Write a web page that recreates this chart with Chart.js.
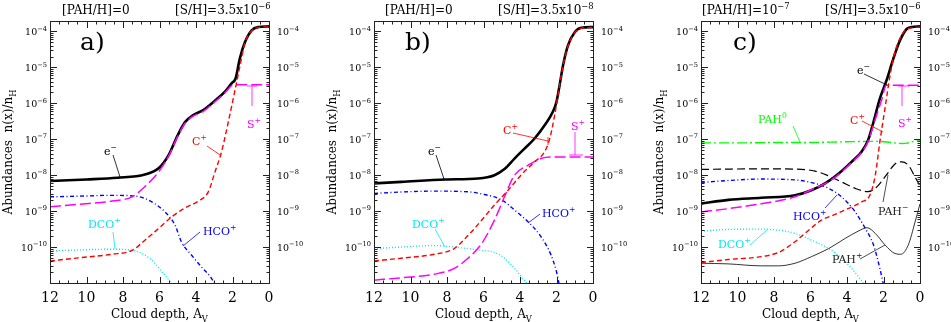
<!DOCTYPE html>
<html>
<head>
<meta charset="utf-8">
<script src="https://cdn.jsdelivr.net/npm/chart.js@4.4.0/dist/chart.umd.min.js"></script>
<style>
html, body { margin: 0; padding: 0; background: #fff; overflow: hidden; width: 951px; height: 322px; }
canvas { position: absolute; top: 0; }
</style>
</head>
<body>
<canvas id="pa" width="317" height="322" style="left:0px"></canvas>
<canvas id="pb" width="317" height="322" style="left:317px"></canvas>
<canvas id="pc" width="317" height="322" style="left:634px"></canvas>
<script>
// axis ticks
const xTicks = [12, 10, 8, 6, 4, 2, 0];
const yDecades = [1e-4, 1e-5, 1e-6, 1e-7, 1e-8, 1e-9, 1e-10];
const yLabels = ['10^{−4}', '10^{−5}', '10^{−6}', '10^{−7}', '10^{−8}', '10^{−9}', '10^{−10}'];
const yMin = 1e-11, yMax = 1.95e-4;

// panel a) [PAH/H]=0, [S/H]=3.5e-6
const avA_e = [12, 10, 8.3, 6.8, 6.05, 5.5, 5.0, 4.6, 4.15, 3.6, 2.95, 2.4, 2.05, 1.83, 1.6, 1.32, 0.95, 0.58, 0];
const a_e = [6.9e-9, 7.6e-9, 8.5e-9, 1.05e-8, 1.55e-8, 3.6e-8, 1.3e-7, 3.0e-7, 4.7e-7, 6.5e-7, 1.2e-6, 2.15e-6, 3.6e-6, 4.9e-6, 1.75e-5, 5.0e-5, 1.07e-4, 1.32e-4, 1.38e-4];
const avA_c = [12, 10.45, 8.6, 7.5, 6.8, 6.05, 5.33, 4.6, 3.87, 3.32, 2.96, 2.6, 2.15, 1.77, 1.59, 1.32, 0.95, 0.58, 0];
const a_c = [4.1e-11, 5.0e-11, 6.3e-11, 8.1e-11, 1.55e-10, 3.3e-10, 6.9e-10, 1.23e-9, 1.9e-9, 3.5e-9, 1.23e-8, 4.5e-8, 4.7e-7, 3.9e-6, 1.1e-5, 4.8e-5, 1.05e-4, 1.29e-4, 1.35e-4];
const avA_s = [12, 10.45, 8.6, 7.5, 6.8, 6.05, 5.5, 5.0, 4.6, 4.15, 3.6, 2.95, 2.4, 2.05, 1.8, 0];
const a_s = [1.32e-9, 1.55e-9, 1.9e-9, 2.5e-9, 4.8e-9, 1.23e-8, 3.4e-8, 1.2e-7, 2.8e-7, 4.4e-7, 6.0e-7, 1.12e-6, 2.0e-6, 3.1e-6, 3.3e-6, 3.3e-6];
const avA_hco = [12, 10.45, 8.6, 7.3, 6.8, 6.25, 5.7, 5.15, 4.8, 4.25, 3.7, 3.15, 2.9];
const a_hco = [2.5e-9, 2.6e-9, 2.75e-9, 2.6e-9, 2.25e-9, 1.6e-9, 9.5e-10, 4.1e-10, 1.4e-10, 6.0e-11, 2.8e-11, 1.35e-11, 8e-12];
const avA_dco = [12, 10.45, 8.6, 7.5, 6.8, 6.25, 5.8, 5.42, 5.1];
const a_dco = [7.8e-11, 8.3e-11, 8.7e-11, 8.1e-11, 6.0e-11, 3.5e-11, 1.85e-11, 1.1e-11, 6.3e-12];

// panel b) [PAH/H]=0, [S/H]=3.5e-8
const avB_e = [12, 10.5, 8.1, 6.3, 5.4, 4.85, 4.3, 3.75, 3.2, 2.65, 2.2, 2.0, 1.83, 1.64, 1.37, 1.0, 0.64, 0];
const b_e = [5.9e-9, 6.5e-9, 7.6e-9, 8.1e-9, 1.0e-8, 1.48e-8, 2.9e-8, 5.5e-8, 1.05e-7, 2.45e-7, 5.8e-7, 1.1e-6, 3.2e-6, 1.15e-5, 4.1e-5, 9.5e-5, 1.26e-4, 1.32e-4];
const avB_c = [12, 10.5, 8.7, 7.6, 6.85, 6.1, 5.4, 4.65, 3.95, 3.2, 2.65, 2.37, 2.1, 1.83, 1.64, 1.37, 1.0, 0.64, 0];
const b_c = [4.1e-11, 4.9e-11, 6.3e-11, 9.1e-11, 2.1e-10, 5.6e-10, 1.48e-9, 3.8e-9, 1.0e-8, 2.35e-8, 4.5e-8, 1.05e-7, 4.7e-7, 3.2e-6, 1.1e-5, 3.9e-5, 9.3e-5, 1.23e-4, 1.29e-4];
const avB_s = [12, 10.5, 8.7, 7.6, 6.85, 6.1, 5.4, 4.85, 4.3, 3.55, 2.85, 2.35, 0];
const b_s = [1.2e-11, 1.4e-11, 1.75e-11, 2.55e-11, 4.9e-11, 1.25e-10, 5.6e-10, 2.5e-9, 1.0e-8, 1.9e-8, 2.9e-8, 3.2e-8, 3.2e-8];
const avB_hco = [12, 10.5, 8.7, 6.85, 5.95, 5.0, 4.3, 3.55, 2.85, 2.3, 2.0, 1.85];
const b_hco = [3.1e-9, 3.4e-9, 3.6e-9, 3.45e-9, 2.9e-9, 2.05e-9, 1.07e-9, 5.0e-10, 1.95e-10, 6.0e-11, 2.05e-11, 9e-12];
const avB_dco = [12, 10.5, 8.7, 7.2, 6.1, 5.4, 4.85, 4.3, 3.85, 3.5];
const b_dco = [9.1e-11, 1.0e-10, 1.1e-10, 9.5e-11, 8.1e-11, 7.1e-11, 4.9e-11, 2.55e-11, 1.35e-11, 8e-12];

// panel c) [PAH/H]=1e-7, [S/H]=3.5e-6
const avC_e = [12, 10.5, 8.7, 6.85, 5.95, 5.2, 4.45, 3.75, 3.2, 2.85, 2.55, 2.2, 1.83, 1.46, 1.1, 0.73, 0.45, 0];
const c_e = [1.62e-9, 2.05e-9, 2.35e-9, 2.75e-9, 3.8e-9, 5.9e-9, 1.12e-8, 2.35e-8, 4.5e-8, 9.3e-8, 3.0e-7, 1.35e-6, 4.4e-6, 1.75e-5, 5.6e-5, 1.17e-4, 1.32e-4, 1.38e-4];
const avC_c = [12, 10.5, 8.7, 7.75, 6.85, 6.1, 5.4, 4.65, 3.95, 3.2, 2.75, 2.45, 2.2, 1.92, 1.64, 1.37, 1.0, 0.64, 0];
const c_c = [3.7e-11, 4.5e-11, 5.4e-11, 7.1e-11, 1.4e-10, 2.95e-10, 5.6e-10, 8.1e-10, 1.17e-9, 1.8e-9, 2.75e-9, 1.0e-8, 8.5e-8, 7.1e-7, 6.0e-6, 2.7e-5, 7.9e-5, 1.2e-4, 1.32e-4];
const avC_s = [12, 10.5, 8.7, 6.85, 5.75, 5.0, 4.45, 3.75, 3.2, 2.85, 2.5, 2.1, 1.85, 0];
const c_s = [9.5e-10, 1.17e-9, 1.6e-9, 2.5e-9, 4.4e-9, 6.6e-9, 1.05e-8, 2.25e-8, 4.3e-8, 8.5e-8, 3.0e-7, 1.25e-6, 3.2e-6, 3.2e-6];
const avC_pah0 = [12, 10, 8, 6, 5, 4, 3, 2.2, 1.6, 1.0, 0.7, 0.35, 0];
const c_pah0 = [7.9e-8, 7.9e-8, 8.1e-8, 8.1e-8, 8.3e-8, 8.5e-8, 8.7e-8, 8.7e-8, 8.1e-8, 7.6e-8, 7.8e-8, 8.7e-8, 9.3e-8];
const avC_pahm = [12, 10.5, 8.7, 6.85, 5.75, 5.0, 4.3, 3.55, 2.85, 2.35, 1.85, 1.37, 1.0, 0.64, 0.27, 0];
const c_pahm = [1.45e-8, 1.48e-8, 1.5e-8, 1.48e-8, 1.3e-8, 9.5e-9, 6.5e-9, 4.3e-9, 3.5e-9, 4.8e-9, 1.0e-8, 2.05e-8, 2.35e-8, 1.9e-8, 8.9e-9, 5.0e-9];
const avC_pahp = [12, 10.5, 8.7, 7.75, 6.85, 5.95, 5.0, 4.1, 3.4, 2.9, 2.45, 1.92, 1.37, 1.05, 0.64, 0.27, 0];
const c_pahp = [3.55e-11, 3.4e-11, 3.0e-11, 3.0e-11, 3.55e-11, 5.4e-11, 9.1e-11, 1.74e-10, 2.75e-10, 3.45e-10, 2.4e-10, 1.15e-10, 6.6e-11, 6.3e-11, 1.15e-10, 5.0e-10, 1.6e-9];
const avC_hco = [12, 10.5, 8.7, 6.85, 5.75, 5.0, 4.3, 3.55, 3.0, 2.55, 2.2, 2.0];
const c_hco = [6.3e-9, 7.1e-9, 7.8e-9, 7.4e-9, 5.9e-9, 4.3e-9, 2.5e-9, 9.5e-10, 3.3e-10, 1.15e-10, 2.55e-11, 9e-12];
const avC_dco = [12, 10.5, 8.7, 7.75, 6.85, 5.95, 5.0, 4.3, 3.75, 3.3, 3.05];
const c_dco = [2.75e-10, 3.1e-10, 3.15e-10, 2.95e-10, 2.4e-10, 1.55e-10, 9.1e-11, 4.9e-11, 2.55e-11, 1.35e-11, 9e-12];

const FONT = '"DejaVu Serif", serif';
const RED = '#ff0000', MAG = '#ff00ff', BLUE = '#0000ff', CYAN = '#00e8f0', GREEN = '#00ff00', BLK = '#000000';

// text with ^{sup} and _{sub}
function rich(ctx, str, x, y, size, align, color) {
  const parts = [];
  str.split(/(\^\{[^}]*\}|_\{[^}]*\})/).forEach(s => {
    if (!s) return;
    if (s.startsWith('^{')) parts.push([s.slice(2, -1), 1]);
    else if (s.startsWith('_{')) parts.push([s.slice(2, -1), -1]);
    else parts.push([s, 0]);
  });
  const fs = k => (k === 0 ? size : size * 0.7);
  let w = 0;
  parts.forEach(p => { ctx.font = fs(p[1]) + 'px ' + FONT; w += ctx.measureText(p[0]).width; });
  let cx = align === 'right' ? x - w : align === 'center' ? x - w / 2 : x;
  ctx.fillStyle = color || '#000';
  ctx.textAlign = 'left';
  ctx.textBaseline = 'alphabetic';
  parts.forEach(p => {
    ctx.font = fs(p[1]) + 'px ' + FONT;
    const dy = p[1] === 1 ? -size * 0.45 : p[1] === -1 ? size * 0.3 : 0;
    ctx.fillText(p[0], cx, y + dy);
    cx += ctx.measureText(p[0]).width;
  });
}

function pts(av, vals) {
  return av.map((a, i) => ({ x: a, y: vals[i] }));
}

function line(av, vals, color, width, dash) {
  return {
    data: pts(av, vals),
    borderColor: color,
    borderWidth: width,
    borderDash: dash,
    pointRadius: 0,
    fill: false,
    cubicInterpolationMode: 'monotone'
  };
}

const panels = [
  {
    id: 'pa', off: 0, pad: { left: 50, right: 48, top: 21, bottom: 39 },
    letter: ['a)', 80], heads: [['[PAH/H]=0', 62], ['[S/H]=3.5x10^{−6}', 175]],
    datasets: [
      line(avA_c, a_c, RED, 1.4, [5, 3]),
      line(avA_s, a_s, MAG, 1.5, [11, 4]),
      line(avA_e, a_e, BLK, 2.6, []),
      line(avA_hco, a_hco, BLUE, 1.4, [4, 2.5, 1, 2.5]),
      line(avA_dco, a_dco, CYAN, 1.4, [1, 2])
    ],
    notes: [
      ['e^{−}', 104, 155, BLK, [[113, 155, 120, 177]]],
      ['C^{+}', 192, 145, RED, [[207, 146, 220, 155]]],
      ['S^{+}', 247, 128, MAG, [[252, 106, 252, 86], [247, 86, 257, 86]]],
      ['DCO^{+}', 88, 228, CYAN, [[113, 232, 115, 249]]],
      ['HCO^{+}', 203, 235, BLUE, [[200, 232, 183, 246]]]
    ]
  },
  {
    id: 'pb', off: 317, pad: { left: 57, right: 41, top: 21, bottom: 39 },
    letter: ['b)', 405], heads: [['[PAH/H]=0', 385], ['[S/H]=3.5x10^{−8}', 498]],
    datasets: [
      line(avB_c, b_c, RED, 1.4, [5, 3]),
      line(avB_s, b_s, MAG, 1.5, [11, 4]),
      line(avB_e, b_e, BLK, 2.6, []),
      line(avB_hco, b_hco, BLUE, 1.4, [4, 2.5, 1, 2.5]),
      line(avB_dco, b_dco, CYAN, 1.4, [1, 2])
    ],
    notes: [
      ['e^{−}', 428, 155, BLK, [[436, 155, 444, 179]]],
      ['C^{+}', 503, 134, RED, [[513, 133, 548, 141], [548, 137, 548, 145]]],
      ['S^{+}', 571, 130, MAG, [[575, 132, 575, 155], [569, 155, 583, 155]]],
      ['HCO^{+}', 542, 217, BLUE, [[540, 214, 528, 223]]],
      ['DCO^{+}', 412, 228, CYAN, [[435, 229, 445, 247]]]
    ]
  },
  {
    id: 'pc', off: 634, pad: { left: 67, right: 31, top: 21, bottom: 39 },
    letter: ['c)', 733], heads: [['[PAH/H]=10^{−7}', 702], ['[S/H]=3.5x10^{−6}', 825]],
    datasets: [
      line(avC_c, c_c, RED, 1.4, [5, 3]),
      line(avC_s, c_s, MAG, 1.5, [11, 4]),
      line(avC_e, c_e, BLK, 2.6, []),
      line(avC_pah0, c_pah0, GREEN, 1.4, [10, 3, 2, 3]),
      line(avC_pahm, c_pahm, BLK, 1.2, [8, 4]),
      line(avC_pahp, c_pahp, BLK, 0.8, []),
      line(avC_hco, c_hco, BLUE, 1.4, [4, 2.5, 1, 2.5]),
      line(avC_dco, c_dco, CYAN, 1.4, [1, 2])
    ],
    notes: [
      ['e^{−}', 857, 74, BLK, [[864, 74, 887, 85]]],
      ['C^{+}', 850, 124, RED, [[862, 121, 883, 132]]],
      ['S^{+}', 898, 127, MAG, [[902, 106, 902, 86], [898, 86, 910, 86]]],
      ['PAH^{0}', 758, 123, GREEN, [[793, 126, 800, 142]]],
      ['PAH^{−}', 878, 215, '#222', [[883, 202, 888, 175]]],
      ['PAH^{+}', 832, 263, '#222', [[860, 259, 885, 245]]],
      ['HCO^{+}', 793, 220, BLUE, [[825, 208, 837, 195]]],
      ['DCO^{+}', 718, 248, CYAN, [[750, 245, 767, 230]]]
    ]
  }
];

function decor(p) {
  return {
    id: 'decor',
    afterDraw(chart) {
      const ctx = chart.ctx;
      const xs = chart.scales.x, ys = chart.scales.y;
      const { left, right, top, bottom } = chart.chartArea;
      ctx.save();
      // frame
      ctx.strokeStyle = '#222';
      ctx.lineWidth = 1;
      ctx.strokeRect(left + 0.5, top + 0.5, right - left, bottom - top);
      // ticks
      ctx.beginPath();
      for (let e = -11; e <= -4; e++) {
        for (let m = 1; m < 10; m++) {
          const v = m * Math.pow(10, e);
          if (v <= yMin || v > yMax) continue;
          const py = Math.round(ys.getPixelForValue(v)) + 0.5;
          const len = m === 1 ? 7 : 3.5;
          ctx.moveTo(left, py); ctx.lineTo(left + len, py);
          ctx.moveTo(right + 1, py); ctx.lineTo(right + 1 - len, py);
        }
      }
      for (let k = 0.5; k < 12; k += 0.5) {
        const px = Math.round(xs.getPixelForValue(k)) + 0.5;
        const len = k % 2 === 0 ? 7 : 3.5;
        ctx.moveTo(px, bottom + 1); ctx.lineTo(px, bottom + 1 - len);
        ctx.moveTo(px, top); ctx.lineTo(px, top + len);
      }
      ctx.stroke();
      // tick labels
      yDecades.forEach((v, i) => {
        const py = ys.getPixelForValue(v);
        rich(ctx, yLabels[i], left - 3, py + 3.5, 9.5, 'right');
        rich(ctx, yLabels[i], right + 8, py + 3.5, 9.5, 'left');
      });
      xTicks.forEach(t => {
        rich(ctx, String(t), xs.getPixelForValue(t), bottom + 19, 14, 'center');
      });
      // axis titles
      rich(ctx, 'Cloud depth, A_{V}', (left + right) / 2, bottom + 35, 12, 'center');
      ctx.save();
      ctx.translate(left - 38, (top + bottom) / 2);
      ctx.rotate(-Math.PI / 2);
      rich(ctx, 'Abundances  n(x)/n_{H}', 0, 0, 12, 'center');
      ctx.restore();
      // headers and panel letter
      p.heads.forEach(h => rich(ctx, h[0], h[1] - p.off, 14, 12, 'left'));
      rich(ctx, p.letter[0], p.letter[1] - p.off, 50, 25, 'left');
      // species labels with leaders
      p.notes.forEach(n => {
        rich(ctx, n[0], n[1] - p.off, n[2], 11, 'left', n[3]);
        ctx.strokeStyle = n[3];
        ctx.lineWidth = 0.8;
        ctx.beginPath();
        n[4].forEach(s => {
          ctx.moveTo(s[0] - p.off, s[1]);
          ctx.lineTo(s[2] - p.off, s[3]);
        });
        ctx.stroke();
      });
      ctx.restore();
    }
  };
}

panels.forEach(p => {
  new Chart(document.getElementById(p.id).getContext('2d'), {
    type: 'line',
    data: { datasets: p.datasets },
    options: {
      responsive: false,
      animation: false,
      layout: { padding: p.pad },
      plugins: { legend: { display: false }, tooltip: { enabled: false } },
      scales: {
        x: { type: 'linear', reverse: true, min: 0, max: 12, display: false },
        y: { type: 'logarithmic', min: yMin, max: yMax, display: false }
      }
    },
    plugins: [decor(p)]
  });
});
</script>
</body>
</html>
